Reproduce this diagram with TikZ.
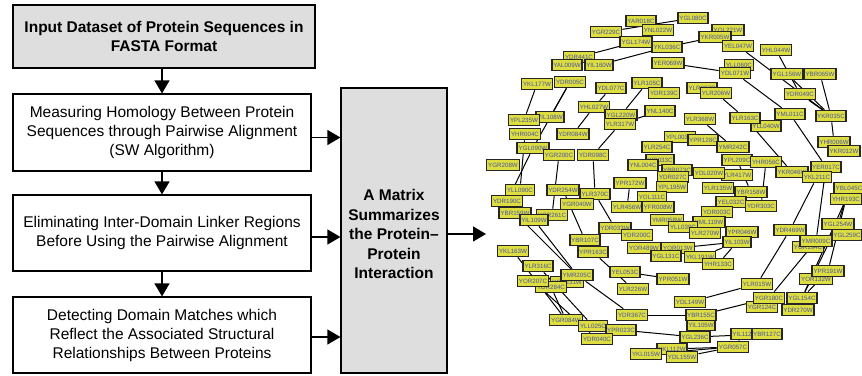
\documentclass[tikz,border=0pt]{standalone}
\usepackage{fontspec}
\setmainfont{Liberation Sans}
\usetikzlibrary{arrows.meta}
\pgfdeclarelayer{bg}
\pgfsetlayers{bg,main}
\definecolor{boxgrey}{RGB}{222,222,222}
\definecolor{netyel}{RGB}{222,222,64}
\definecolor{netblue}{RGB}{70,82,160}
\begin{document}
\begin{tikzpicture}[x=1pt,y=-1pt,
  stepbox/.style={draw, line width=1.2pt, align=center, inner sep=0pt,
    font=\fontsize{15.5}{19}\selectfont, minimum width=298pt},
  flow/.style={line width=1.2pt, -{Triangle[length=13pt,width=15pt]}},
  net/.style={draw=black!85, line width=1.6pt, fill=netyel, text=netblue,
    font=\fontsize{6.2}{7}\selectfont, inner sep=1.5pt, minimum height=11pt},
  netedge/.style={line width=1pt, black}]
\useasboundingbox (0,0) rectangle (862,375);

% ---- flow chart ----
\node[stepbox, fill=boxgrey, minimum width=302pt, minimum height=63pt,
  font=\bfseries\fontsize{15.5}{19.5}\selectfont] (b1) at (164,36.5)
  {Input Dataset of Protein Sequences in\\FASTA Format};
\node[stepbox, minimum height=77pt] (b2) at (162,132.5)
  {Measuring Homology Between Protein\\Sequences through Pairwise Alignment\\(SW Algorithm)};
\node[stepbox, minimum height=76pt] (b3) at (162,233)
  {Eliminating Inter-Domain Linker Regions\\Before Using the Pairwise Alignment};
\node[stepbox, minimum height=76pt] (b4) at (162,335)
  {Detecting Domain Matches which\\Reflect the Associated Structural\\Relationships Between Proteins};
\node[draw, line width=1.2pt, fill=boxgrey, minimum width=106pt, minimum height=285pt,
  inner sep=0pt] (mid) at (394,230.5) {};
\node[align=center, font=\bfseries\fontsize{15.5}{19.5}\selectfont] (midtext) at (394,234)
  {A Matrix\\Summarizes\\the Protein--\\Protein\\Interaction};

\draw[flow] (b2.north |- b1.south) -- (b2.north);
\draw[flow] (b2.south) -- (b3.north);
\draw[flow] (b3.south) -- (b4.north);
\draw[flow] ([yshift=-5pt]b2.east) -- ([yshift=-5pt]b2.east -| mid.west);
\draw[flow] ([yshift=-4pt]b3.east) -- ([yshift=-4pt]b3.east -| mid.west);
\draw[flow] ([yshift=-2pt]b4.east) -- ([yshift=-2pt]b4.east -| mid.west);
\coordinate (netin) at (486,234);
\draw[flow] (mid.east |- netin) -- (netin);

% ---- interaction network ----
\foreach \x/\y/\t in {
  641/21/YAR018C, 606/32/YGR229C, 658/30/YNL022W, 636/42/YGL174W, 667/47/YKL036C,
  693/18/YGL080C, 728/30/YOL221W, 715/37/YKR005W, 738/46/YEL047W, 776/50/YHL044W,
  579/57/YDR441C, 567/65/YAL009W, 599/65/YIL160W, 668/63/YER069W, 739/65/YLL060C,
  735/73/YDL071W, 820/74/YBR065W, 787/74/YGL156W, 537/84/YKL177W, 570/82/YDR005C,
  611/88/YDL077C, 647/83/YLR105C, 702/88/YLR097C, 664/93/YDR139C, 716/93/YLR206W,
  800/94/YDR049C, 594/107/YHL027W, 660/111/YNL140C, 621/115/YGL220W, 620/124/YLR317W,
  700/119/YLR368W, 766/126/YLL040W, 745/118/YLR163C, 790/114/YML011C, 831/116/YKR035C,
  550/117/YIL108W, 524/120/YPL235W, 525/134/YHR004C, 573/134/YDR084W, 680/137/YPL003W,
  703/140/YPR128C, 733/147/YMR242C, 834/142/YHR006W, 844/151/YKR012W, 533/148/YGL090W,
  559/155/YGR200C, 593/155/YDR098C, 657/147/YLR254C, 660/160/YIR033C, 643/165/YNL004C,
  503/165/YGR208W, 737/160/YPL209C, 766/162/YHR056C, 826/167/YER017C, 792/172/YKR046W,
  817/177/YKL211C, 737/175/YLR417W, 709/173/YDL020W, 677/170/YBR073C, 673/177/YDR027C,
  630/183/YPR172W, 672/187/YPL195W, 718/188/YLR135W, 751/192/YBR158W, 849/188/YBL045C,
  846/199/YHR193C, 520/190/YLL090C, 563/190/YDR254W, 595/194/YLR370C, 652/197/YOL111C,
  507/201/YDR190C, 577/204/YGR040W, 627/207/YLR456W, 658/207/YFR008W, 731/202/YEL032C,
  761/206/YDR303C, 717/212/YDR003C, 515/213/YBR159W, 552/215/YGR261C, 534/220/YIL109W,
  667/220/YMR058W, 709/222/YML119W, 838/224/YGL254W, 683/227/YLL039C, 615/228/YDR033W,
  790/230/YDR469W, 705/233/YLR270W, 742/232/YPR046W, 637/235/YDR200C, 847/235/YGL259C,
  585/240/YBR107C, 737/242/YIL103W, 808/247/YGR194C, 816/241/YMR009C, 644/248/YOR489W,
  678/248/YOR013W, 513/251/YKL163W, 593/252/YPR163C, 666/256/YGL131C, 700/257/YKL191W,
  718/264/YHR133C, 538/266/YLR316C, 625/272/YEL053C, 567/282/YOR231W, 577/275/YMR205C,
  551/287/YDR284C, 533/281/YOR207C, 673/279/YPR051W, 816/279/YOR132W, 828/271/YPR191W,
  633/289/YLR226W, 757/284/YLR015W, 762/307/YGR124C, 798/310/YDR270W, 769/298/YGR180C,
  802/298/YGL154C, 690/302/YDL149W, 632/315/YDR367C, 701/325/YIL105W, 701/315/YBR155C,
  566/320/YGR084W, 593/326/YLL025C, 621/330/YPR023C, 597/339/YDR040C, 695/337/YGL236C,
  745/334/YIL112W, 767/334/YBR127C, 672/349/YKL112W, 733/347/YGR057C, 646/354/YKL015W,
  682/357/YDL155W}
  \node[net] (\t) at (\x,\y) {\t};

\begin{pgfonlayer}{bg}
\foreach \a/\b in {
  YGR229C/YGL080C, YKL036C/YKR005W, YGL174W/YDR441C, YKL036C/YIL160W,
  YKL177W/YPL235W, YDR005C/YIL108W, YDR005C/YGL090W, YDL077C/YHL027W,
  YLR105C/YGL220W, YNL140C/YLR317W, YHL027W/YDR084W, YER069W/YDL071W,
  YDL071W/YML011C, YLR206W/YLR163C, YEL047W/YKR035C, YHL044W/YDR049C,
  YGL156W/YKR035C, YDR049C/YKR035C, YBR065W/YKR035C, YML011C/YER017C,
  YLR163C/YKR046W, YLR368W/YMR242C, YHR004C/YLL090C, YGL090W/YDR190C,
  YGR200C/YGR261C, YDR098C/YLR370C, YLR317W/YDR098C, YDR254W/YBR107C,
  YLR370C/YDR033W, YPR172W/YLR456W, YHR056C/YDR303C, YPL209C/YBR158W,
  YKL211C/YDR469W, YER017C/YMR009C, YBL045C/YGL254W, YHR193C/YPR191W,
  YHR193C/YGL154C, YGL254W/YGL154C, YHR006W/YKR035C, YKL163W/YGR084W,
  YLR316C/YLL025C, YOR207C/YDR040C, YDR284C/YGR084W, YIL109W/YMR205C,
  YMR205C/YDR367C, YPR163C/YLR226W, YEL053C/YPR051W, YDR367C/YBR155C,
  YPR023C/YGL236C, YKL191W/YIL103W, YHR133C/YIL103W, YOR013W/YIL103W,
  YDL149W/YLR015W, YLR015W/YDR469W, YGR180C/YMR009C, YGL154C/YPR191W,
  YBR155C/YGR180C, YGL236C/YBR127C, YDL155W/YGR057C, YKL015W/YGR057C,
  YGR057C/YIL112W, YBR159W/YMR205C, YKR005W/YOL221W, YKL112W/YGR057C}
  \draw[netedge] (\a) -- (\b);
\end{pgfonlayer}
\end{tikzpicture}
\end{document}
